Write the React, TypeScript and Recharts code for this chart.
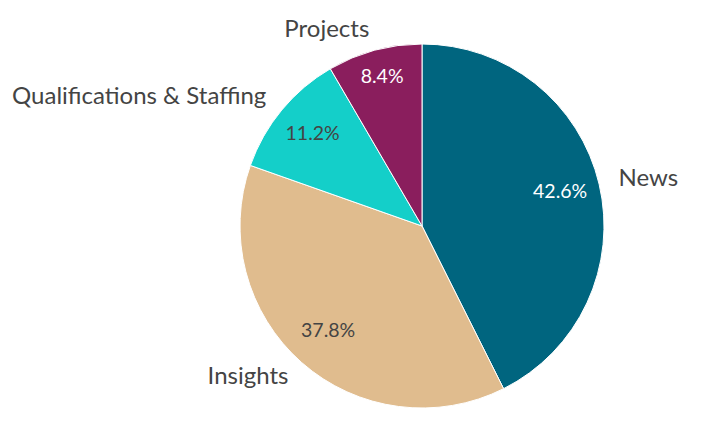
import React from "react";
import { PieChart, Pie, Cell } from "recharts";

const categories = ["News", "Insights", "Qualifications & Staffing", "Projects"];
const shares = [42.6, 37.8, 11.2, 8.4];
const colors = ["#00657f", "#e0bc8e", "#14cfc9", "#8a1e5d"];
const pctColors = ["#ffffff", "#444444", "#444444", "#ffffff"];

const data = categories.map((name, i) => ({ name, value: shares[i] }));

const RAD = Math.PI / 180;

const renderLabel = (props: any) => {
  const { cx, cy, midAngle, outerRadius, index, name, value } = props;
  const cos = Math.cos(-midAngle * RAD);
  const sin = Math.sin(-midAngle * RAD);
  const rIn = outerRadius * (index === 3 ? 0.84 : 0.78);
  const rOut = outerRadius + 20;
  const ox = cx + rOut * cos;
  const oy = cy + rOut * sin - 3;
  return (
    <g>
      <text
        x={cx + rIn * cos}
        y={cy + rIn * sin - 3}
        fill={pctColors[index]}
        fontSize={19.5}
        textAnchor="middle"
        dominantBaseline="central"
      >
        {value.toFixed(1)}%
      </text>
      <text
        x={ox}
        y={oy}
        fill="#444444"
        fontSize={24}
        textAnchor={cos >= 0 ? "start" : "end"}
        dominantBaseline="central"
      >
        {name}
      </text>
    </g>
  );
};

export default function App() {
  return (
    <div
      style={{
        position: "absolute",
        left: 0,
        top: 0,
        width: 713,
        height: 429,
        background: "#fff",
        fontFamily: "Lato, 'Noto Sans', sans-serif",
      }}
    >
      <PieChart
        width={713}
        height={429}
        margin={{ top: 0, right: 0, bottom: 0, left: 0 }}
      >
        <Pie
          data={data}
          dataKey="value"
          nameKey="name"
          cx={422}
          cy={226}
          outerRadius={182}
          startAngle={90}
          endAngle={-270}
          label={renderLabel}
          labelLine={false}
          stroke="#ffffff"
          strokeWidth={1}
          isAnimationActive={false}
        >
          {data.map((d, i) => (
            <Cell key={d.name} fill={colors[i]} />
          ))}
        </Pie>
      </PieChart>
    </div>
  );
}
